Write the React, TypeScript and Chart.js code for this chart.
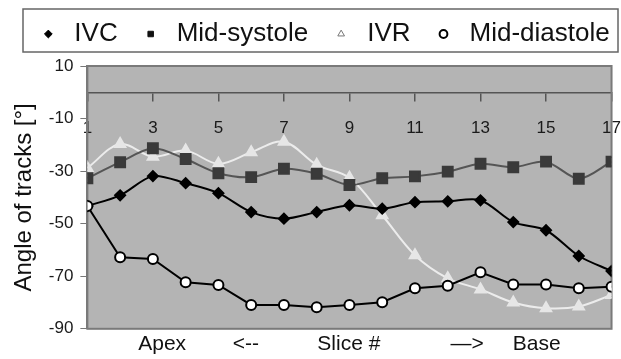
import React, { useEffect, useRef } from 'react';
import { Chart, registerables } from 'chart.js';

Chart.register(...registerables);

const slices = [1, 2, 3, 4, 5, 6, 7, 8, 9, 10, 11, 12, 13, 14, 15, 16, 17];
const ivc = [-43.3, -39.2, -31.9, -34.6, -38.4, -45.6, -48.1, -45.6, -43.0, -44.3, -41.8, -41.5, -41.1, -49.4, -52.5, -62.3, -68.0];
const midSystole = [-32.7, -26.6, -21.3, -25.4, -30.8, -32.3, -29.1, -31.0, -35.3, -32.7, -32.0, -30.2, -27.2, -28.5, -26.4, -32.9, -26.4];
const ivr = [-28.8, -19.7, -24.5, -22.2, -27.2, -22.8, -18.8, -27.6, -32.5, -46.8, -62.0, -70.8, -75.0, -80.0, -82.2, -81.5, -77.1];
const midDiastole = [-43.3, -62.8, -63.4, -72.3, -73.3, -80.9, -80.9, -81.8, -80.9, -79.9, -74.6, -73.6, -68.5, -73.1, -73.1, -74.6, -74.0];

const xTicks = [1, 3, 5, 7, 9, 11, 13, 15, 17];
const yTicks = [10, -10, -30, -50, -70, -90];
const seriesNames = ['IVC', 'Mid-systole', 'IVR', 'Mid-diastole'];
const yTitle = 'Angle of tracks [°]';
const xTitle = 'Apex        <--          Slice #            —>     Base';

const FONT = "'Liberation Sans', Arial, Helvetica, sans-serif";

const pts = (vals: number[]) => vals.map((v, i) => ({ x: slices[i], y: v }));

const legendStyles = [
  { fillStyle: '#000', strokeStyle: '#000', lineWidth: 1 },
  { fillStyle: '#111', strokeStyle: '#111', lineWidth: 1 },
  { fillStyle: '#fff', strokeStyle: '#777', lineWidth: 1 },
  { fillStyle: '#fff', strokeStyle: '#000', lineWidth: 2 },
];

const decor = {
  id: 'decor',
  afterLayout(chart: any) {
    const lg = chart.legend;
    if (lg) {
      lg.left += 12;
      lg.right += 12;
      lg.top -= 9;
      lg.bottom -= 9;
    }
  },
  beforeDraw(chart: any) {
    const { ctx, chartArea: a } = chart;
    ctx.save();
    ctx.fillStyle = '#b4b4b4';
    ctx.fillRect(a.left, a.top, a.right - a.left, a.bottom - a.top);
    ctx.restore();
  },
  beforeDatasetsDraw(chart: any) {
    const { ctx, chartArea: a } = chart;
    ctx.save();
    ctx.strokeStyle = '#7a7a7a';
    ctx.lineWidth = 2;
    ctx.strokeRect(a.left, a.top, a.right - a.left, a.bottom - a.top);
    ctx.restore();
  },
  afterDraw(chart: any) {
    const { ctx } = chart;
    ctx.save();
    ctx.strokeStyle = '#666';
    ctx.lineWidth = 1.5;
    ctx.strokeRect(23, 9, chart.width - 23 - 3, 43);
    ctx.restore();
  },
};

export default function App() {
  const ref = useRef<HTMLCanvasElement | null>(null);

  useEffect(() => {
    if (!ref.current) return;
    const chart = new Chart(ref.current, {
      type: 'line',
      data: {
        datasets: [
          {
            label: seriesNames[0],
            data: pts(ivc),
            borderColor: '#000',
            backgroundColor: '#000',
            borderWidth: 2,
            pointStyle: 'rectRot',
            pointRadius: 5,
            pointBorderColor: '#000',
            pointBackgroundColor: '#000',
            tension: 0.3,
            order: 1,
          },
          {
            label: seriesNames[1],
            data: pts(midSystole),
            borderColor: '#555',
            backgroundColor: '#3a3a3a',
            borderWidth: 2,
            pointStyle: 'rect',
            pointRadius: 7,
            pointBorderColor: '#3a3a3a',
            pointBackgroundColor: '#3a3a3a',
            tension: 0.3,
            order: 2,
          },
          {
            label: seriesNames[2],
            data: pts(ivr),
            borderColor: '#ececec',
            backgroundColor: '#e6e6e6',
            borderWidth: 2,
            pointStyle: 'triangle',
            pointRadius: 6,
            pointBorderColor: '#e6e6e6',
            pointBackgroundColor: '#e6e6e6',
            tension: 0.35,
            order: 3,
          },
          {
            label: seriesNames[3],
            data: pts(midDiastole),
            borderColor: '#000',
            backgroundColor: '#fff',
            borderWidth: 2,
            pointStyle: 'circle',
            pointRadius: 5,
            pointBorderWidth: 2,
            pointBorderColor: '#000',
            pointBackgroundColor: '#fff',
            tension: 0,
            order: 0,
          },
        ],
      },
      options: {
        responsive: true,
        maintainAspectRatio: false,
        animation: false,
        layout: { padding: { left: 0, right: 0, top: 10, bottom: 0 } },
        plugins: {
          tooltip: { enabled: false },
          legend: {
            position: 'top',
            labels: {
              usePointStyle: true,
              boxHeight: 5.5,
              padding: 20,
              color: '#111',
              font: { family: FONT, size: 26 },
              sort: (a: any, b: any) => a.datasetIndex - b.datasetIndex,
              generateLabels: (chart: any) => {
                const items = Chart.defaults.plugins.legend.labels.generateLabels(chart);
                return items.map((it: any) => ({ ...it, ...legendStyles[it.datasetIndex] }));
              },
            },
          },
        },
        scales: {
          x: {
            type: 'linear',
            position: { y: 0 } as any,
            min: 1,
            max: 17,
            afterBuildTicks: (s: any) => {
              s.ticks = xTicks.map((v) => ({ value: v }));
            },
            ticks: {
              color: '#1a1a1a',
              font: { family: FONT, size: 17, lineHeight: 3.3 },
              padding: 0,
              maxRotation: 0,
              autoSkip: false,
            },
            grid: {
              display: true,
              drawOnChartArea: false,
              drawTicks: true,
              tickLength: 8,
              color: '#555',
              lineWidth: 1.5,
            },
            border: { display: true, color: '#555', width: 1.5 },
          },
          xb: {
            type: 'linear',
            position: 'bottom',
            display: true,
            ticks: { display: false },
            grid: { display: false, drawTicks: false },
            border: { display: false },
            title: {
              display: true,
              text: xTitle,
              color: '#111',
              font: { family: FONT, size: 21 },
              padding: { top: 3, bottom: 2 },
            },
          },
          y: {
            type: 'linear',
            position: 'left',
            min: -90,
            max: 10,
            afterBuildTicks: (s: any) => {
              s.ticks = yTicks.map((v) => ({ value: v }));
            },
            ticks: {
              color: '#1a1a1a',
              font: { family: FONT, size: 17 },
              padding: 7,
            },
            grid: {
              display: true,
              drawOnChartArea: false,
              drawTicks: true,
              tickLength: 7,
              color: '#777',
            },
            border: { display: true, color: '#7a7a7a', width: 2 },
            title: {
              display: true,
              text: yTitle,
              color: '#111',
              font: { family: FONT, size: 24 },
              padding: { top: 10, bottom: 3 },
            },
          },
        },
      },
      plugins: [decor],
    });
    return () => chart.destroy();
  }, []);

  return (
    <div style={{ position: 'absolute', left: 0, top: 0, width: 621, height: 359, background: '#fff' }}>
      <canvas ref={ref} />
    </div>
  );
}
